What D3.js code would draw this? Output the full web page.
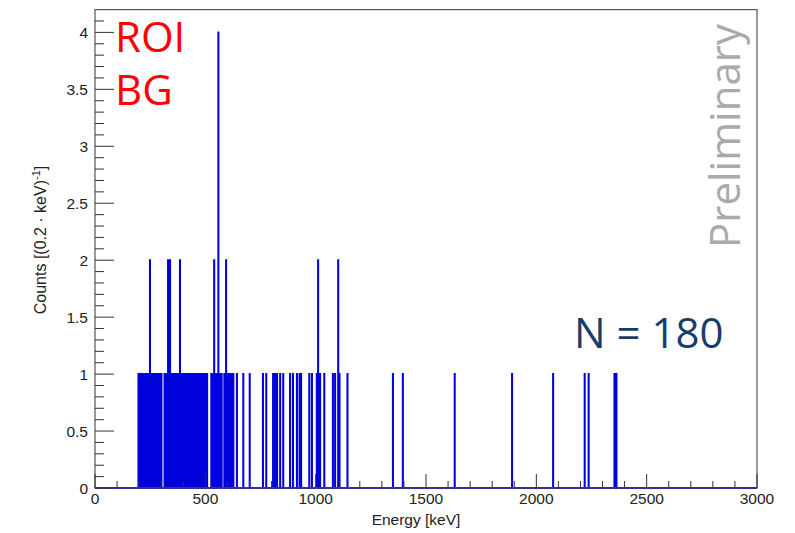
<!DOCTYPE html>
<html><head><meta charset="utf-8">
<script src="https://cdn.jsdelivr.net/npm/d3@7"></script>
<style>body{margin:0;background:#fff}</style>
</head><body>
<script>
// Event energies in keV (0.2 keV bins; repeated values fall in the same bin)
const eventsLowA = [197,199,201,203,211,213,215,218,220,222,224,226,229,231,233,235,237,240,242,244,246,251,253,256,258,260,262,265,267,269,272,274,277,279,281,284,286,288,291,293,296,298,301];
const eventsLowB = [315,317,320,322,325,327,334,336,343,346,348,351,354,357,359,362,365,368,371,374,377,380,388,391,394,397,400,409,411,420,423,432];
const eventsMid = [436,439,442,445,448,451,454,457,460,463,466,469,472,476,479,482,485,488,492,495,498,502,505,508,
  527,530,533,536,543,546,549,552,555,562,565,568,571,574,
  586,589,591,597,600,603,606,609,612,615,618,621,624,627];
const eventsMulti = [249,249,331,331,340,340,385,385,540,540,559,559,559,559,594,594];
const eventsHigh = [643,672,701,761,776,807,816,825,839,853,884,897,915,927,934,971,983,1005,1011,1011,1020,1039,1078,1088,1102,1102,1108,1144,1350,1395,1630,1890,2076,2219,2237,2354,2363];
const binWidth = 0.2;
const xTicks = [0,500,1000,1500,2000,2500,3000];
const yTicks = [0,0.5,1,1.5,2,2.5,3,3.5,4];

const W = 795, H = 533;
const svg = d3.select("body").append("svg").attr("width", W).attr("height", H);
const x = d3.scaleLinear().domain([0, 3000]).range([95, 757]);
const y = d3.scaleLinear().domain([0, 4.2]).range([488, 9.6]);

const allEvents = [].concat(eventsLowA, eventsLowB, eventsMid, eventsMulti, eventsHigh);
const counts = d3.rollups(allEvents, v => v.length, e => Math.floor(e / binWidth + 1e-6))
  .sort((a, b) => a[0] - b[0]);

// step outline like ROOT
let pts = [[0, 0]];
counts.forEach(([b, c]) => {
  const l = b * binWidth, r = (b + 1) * binWidth;
  pts.push([l, 0], [l, c], [r, c], [r, 0]);
});
pts.push([3000, 0]);
const line = d3.line().x(d => x(d[0])).y(d => y(d[1]));
svg.append("path").attr("d", line(pts)).attr("fill", "none")
  .attr("stroke", "#0000dd").attr("stroke-width", 2).attr("stroke-linejoin", "miter");

// frame
svg.append("rect").attr("x", x(0)).attr("y", y(4.2)).attr("width", x(3000) - x(0)).attr("height", y(0) - y(4.2))
  .attr("fill", "none").attr("stroke", "#555").attr("stroke-width", 1.2);

// y ticks
const yMinor = d3.range(0, 42).map(i => i / 10);
svg.append("g").selectAll("line").data(yMinor).join("line")
  .attr("x1", x(0)).attr("x2", d => x(0) + (Math.abs(d * 2 - Math.round(d * 2)) < 1e-6 ? 19 : 9))
  .attr("y1", d => y(d)).attr("y2", d => y(d)).attr("stroke", "#333").attr("stroke-width", 1);
svg.append("g").selectAll("text").data(yTicks).join("text")
  .attr("x", 88).attr("y", d => y(d) + 5.5).attr("text-anchor", "end")
  .attr("font-family", "Liberation Sans, Arial, sans-serif").attr("font-size", 15.5).attr("fill", "#222")
  .text(d => d);

// x ticks
const xMinor = d3.range(0, 3001, 100);
svg.append("g").selectAll("line").data(xMinor).join("line")
  .attr("x1", d => x(d)).attr("x2", d => x(d))
  .attr("y1", y(0)).attr("y2", d => y(0) - (d % 500 === 0 ? 14 : 7))
  .attr("stroke", "#333").attr("stroke-width", 1);
svg.append("g").selectAll("text").data(xTicks).join("text")
  .attr("x", d => x(d)).attr("y", 504).attr("text-anchor", "middle")
  .attr("font-family", "Liberation Sans, Arial, sans-serif").attr("font-size", 15.5).attr("fill", "#222")
  .text(d => d);

// axis titles
svg.append("text").attr("x", 416).attr("y", 525).attr("text-anchor", "middle")
  .attr("font-family", "Liberation Sans, Arial, sans-serif").attr("font-size", 15.5).attr("fill", "#222")
  .text("Energy [keV]");
const yt = svg.append("text").attr("transform", "translate(46,240) rotate(-90)").attr("text-anchor", "middle")
  .attr("font-family", "Liberation Sans, Arial, sans-serif").attr("font-size", 16).attr("fill", "#222");
yt.append("tspan").text("Counts [(0.2 \u00B7 keV)");
yt.append("tspan").attr("dy", -6).attr("font-size", 11).text("-1");
yt.append("tspan").attr("dy", 6).text("]");

// annotations
const big = "Open Sans, Noto Sans, sans-serif";
svg.append("text").attr("x", 115).attr("y", 52).attr("font-family", big).attr("font-size", 42).attr("fill", "#ff0000").text("ROI");
svg.append("text").attr("x", 115).attr("y", 105).attr("font-family", big).attr("font-size", 42).attr("fill", "#ff0000").text("BG");
svg.append("text").attr("x", 574).attr("y", 348).attr("font-family", big).attr("font-size", 42).attr("fill", "#173e6b").text("N = 180");
svg.append("text").attr("transform", "translate(740,248) rotate(-90)").attr("font-family", big).attr("font-size", 42).attr("fill", "#aaaaaa").text("Preliminary");
</script>
</body></html>
